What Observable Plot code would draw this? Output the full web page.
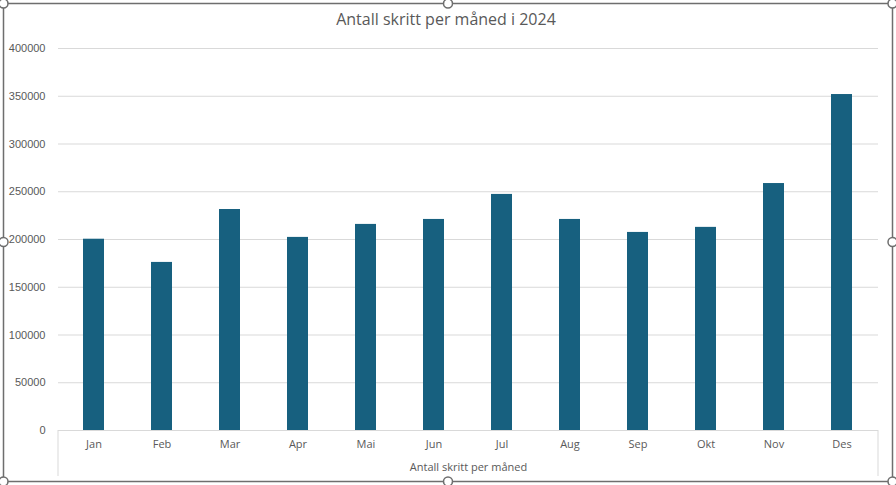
<!DOCTYPE html>
<html>
<head>
<meta charset="utf-8">
<script src="https://cdn.jsdelivr.net/npm/d3@7"></script>
<script src="https://cdn.jsdelivr.net/npm/@observablehq/plot@0.6"></script>
<style>
  body { margin: 0; background: #fff; }
  #wrap { position: relative; width: 896px; height: 485px; overflow: hidden; }
  #title { position: absolute; top: 8px; left: 0; width: 892px; text-align: center;
           font-family: "Open Sans", sans-serif; font-size: 16px; color: #595959; }
  #wrap svg { position: absolute; top: 0; left: 0; }
</style>
</head>
<body>
<div id="wrap"><div id="title">Antall skritt per måned i 2024</div></div>
<script>
const months = ["Jan","Feb","Mar","Apr","Mai","Jun","Jul","Aug","Sep","Okt","Nov","Des"];
const steps = [200300, 176000, 231400, 202200, 215800, 221000, 247200, 221000, 207400, 212700, 258600, 351800];
const yTicks = [0, 50000, 100000, 150000, 200000, 250000, 300000, 350000, 400000];
const xAxisTitle = "Antall skritt per måned";

const data = months.map((m, i) => ({month: m, value: steps[i]}));

const plot = Plot.plot({
  width: 896,
  height: 485,
  marginTop: 48,
  marginBottom: 55,
  marginLeft: 58,
  marginRight: 18,
  style: {fontFamily: "Open Sans, sans-serif", fontSize: "11px", color: "#595959", background: "transparent"},
  x: {domain: months, paddingInner: 0.69, paddingOuter: 0.345, align: 0.5, label: null},
  y: {domain: [0, 400000], label: null},
  marks: [
    Plot.gridY(yTicks, {stroke: "#d9d9d9", strokeOpacity: 1}),
    Plot.axisY(yTicks, {tickSize: 0, tickPadding: 13, tickFormat: d => String(d), fill: "#595959", fontFamily: "Liberation Sans, Arial, sans-serif", fontSize: 11}),
    Plot.barY(data, {x: "month", y: "value", fill: "#17607f"}),
    Plot.ruleY([0], {stroke: "#d9d9d9"}),
    Plot.axisX({tickSize: 0, tickPadding: 10, fill: "#595959", fontSize: 11}),
    Plot.text([xAxisTitle], {frameAnchor: "bottom", dy: 40, fill: "#595959", fontSize: 11})
  ]
});

document.getElementById("wrap").appendChild(plot);

// category-axis box edges and chart selection frame
const svg = d3.select(plot);
const xr = plot.scale("x").range;
const y0 = plot.scale("y").apply(0);
[xr[0], xr[1]].forEach(x => {
  svg.append("line").attr("x1", x).attr("x2", x).attr("y1", y0).attr("y2", 476)
     .attr("stroke", "#d9d9d9");
});
svg.append("rect").attr("x", 3.5).attr("y", 3.5).attr("width", 889).attr("height", 478)
   .attr("fill", "none").attr("stroke", "#6e6e6e").attr("stroke-width", 1.5);
const hx = [3.5, 448, 892.5], hy = [3.5, 242, 481.5];
hx.forEach(x => hy.forEach(y => {
  if (x === 448 && y === 242) return;
  svg.append("circle").attr("cx", x).attr("cy", y).attr("r", 4.5)
     .attr("fill", "#fff").attr("stroke", "#6e6e6e").attr("stroke-width", 1.5);
}));
</script>
</body>
</html>
